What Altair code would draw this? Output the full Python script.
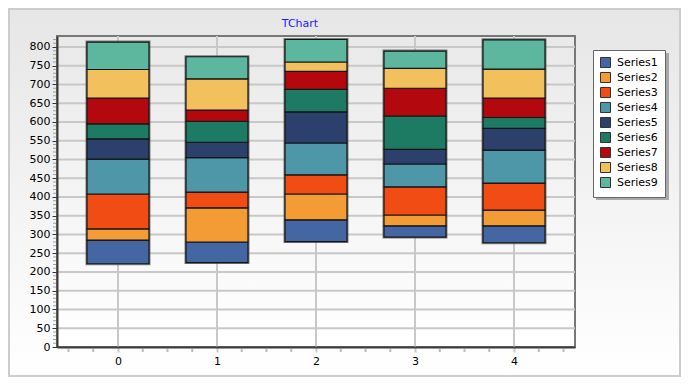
import altair as alt
import pandas as pd

categories = [0, 1, 2, 3, 4]
series_names = ["Series1", "Series2", "Series3", "Series4", "Series5",
                "Series6", "Series7", "Series8", "Series9"]
base = [222, 225, 281, 293, 278]
series1 = [63, 55, 58, 30, 45]
series2 = [30, 91, 69, 29, 42]
series3 = [93, 42, 51, 75, 72]
series4 = [93, 92, 85, 61, 88]
series5 = [54, 41, 83, 39, 58]
series6 = [40, 56, 60, 89, 29]
series7 = [69, 30, 48, 74, 52]
series8 = [76, 83, 25, 53, 77]
series9 = [73, 59, 60, 46, 78]
colors = ["#4466A3", "#F39C35", "#F14C14", "#4E97A8", "#2B406B",
          "#1D7B63", "#B3080E", "#F2C05D", "#5DB79E"]
title_text = "TChart"
y_ticks = list(range(0, 801, 50))
y_minor = [v for v in range(0, 830, 10) if v % 50 != 0]
x_minor = [c + q for c in range(-1, 5) for q in (0.25, 0.5, 0.75)]
x_minor = [v for v in x_minor if -0.6 < v < 4.6]

all_series = [series1, series2, series3, series4, series5,
              series6, series7, series8, series9]

rows = []
tops = []
for i, c in enumerate(categories):
    lo = base[i]
    for name, vals in zip(series_names, all_series):
        hi = lo + vals[i]
        rows.append({"cat": c, "series": name, "lo": lo, "hi": hi})
        lo = hi
    tops.append(lo)
df = pd.DataFrame(rows)
df_out = pd.DataFrame({"cat": categories, "lo": base, "hi": tops})

W, H = 518, 311
PL, PT, PR, PB = 49, 28, 106, 30
HALF = 0.313
LX, LY = 536, 14

xscale = alt.Scale(domain=[-0.616, 4.616], nice=False, zero=False)
yscale = alt.Scale(domain=[0, 829.3], nice=False, zero=False)
xaxis = alt.Axis(values=categories, format="d", grid=False, title=None,
                 domainColor="#3c3c3c", domainWidth=2, tickColor="#c8c8c8",
                 tickWidth=2, tickSize=5, labelPadding=3, labelFontSize=11,
                 labelFont="DejaVu Sans", labelColor="#000000", zindex=1)
yaxis = alt.Axis(values=y_ticks, grid=False, title=None,
                 domainColor="#3c3c3c", domainWidth=2, tickColor="#333333",
                 tickWidth=1, tickSize=5, labelPadding=2, labelFontSize=11,
                 labelFont="DejaVu Sans", labelColor="#000000", zindex=1)


def X(field):
    return alt.X(field, type="quantitative", scale=xscale, axis=xaxis)


def Y(field):
    return alt.Y(field, type="quantitative", scale=yscale, axis=yaxis)


one = pd.DataFrame({"a": [0]})
outer_grad = alt.Gradient(gradient="linear", x1=0, x2=0, y1=0, y2=1,
                          stops=[alt.GradientStop(color="#e6e6e6", offset=0),
                                 alt.GradientStop(color="#ffffff", offset=1)])
plot_grad = alt.Gradient(gradient="linear", x1=0, x2=0, y1=0, y2=1,
                         stops=[alt.GradientStop(color="#e9e9e9", offset=0),
                                alt.GradientStop(color="#ffffff", offset=1)])

bg_outer = alt.Chart(one).mark_rect(color=outer_grad, stroke="#cccccc", strokeWidth=2).encode(
    x=alt.value(-PL + 1), x2=alt.value(W + PR - 1),
    y=alt.value(-PT + 1), y2=alt.value(H + PB - 1))
bg_plot = alt.Chart(one).mark_rect(color=plot_grad, stroke="#777777", strokeWidth=2).encode(
    x=alt.value(0), x2=alt.value(W), y=alt.value(0), y2=alt.value(H))

legend_shadow = alt.Chart(one).mark_rect(color="#8a8a8a", opacity=0.7).encode(
    x=alt.value(LX + 3), x2=alt.value(LX + 76),
    y=alt.value(LY + 3), y2=alt.value(LY + 150))

title = alt.Chart(pd.DataFrame({"t": [title_text]})).mark_text(
    color="#1a1aff", fontSize=11, font="DejaVu Sans", align="center",
    baseline="alphabetic").encode(
    text="t:N", x=alt.value(243), y=alt.value(-9))

grid_h = alt.Chart(pd.DataFrame({"v": y_ticks[1:]})).mark_rule(
    color="#c8c8c8", strokeWidth=2).encode(
    y=Y("v"), x=alt.value(0), x2=alt.value(W))
grid_v = alt.Chart(pd.DataFrame({"cat": categories})).mark_rule(
    color="#c8c8c8", strokeWidth=2).encode(
    x=X("cat"), y=alt.value(0), y2=alt.value(H))

minor_y = alt.Chart(pd.DataFrame({"v": y_minor})).mark_rule(
    color="#a0a0a0", strokeWidth=1).encode(
    y=Y("v"), x=alt.value(-4), x2=alt.value(-1))
minor_x = alt.Chart(pd.DataFrame({"v": x_minor})).mark_rule(
    color="#bbbbbb", strokeWidth=2).encode(
    x=X("v"), y=alt.value(H + 2), y2=alt.value(H + 5))

outline = alt.Chart(df_out).transform_calculate(
    xl=f"datum.cat - {HALF}", xr=f"datum.cat + {HALF}").mark_rect(
    fill=None, stroke="#555555", strokeWidth=3, strokeOpacity=0.75).encode(
    x=X("xl:Q"), x2="xr:Q", y=Y("lo:Q"), y2="hi:Q")

bars = alt.Chart(df).transform_calculate(
    xl=f"datum.cat - {HALF}", xr=f"datum.cat + {HALF}").mark_rect(
    stroke="#151515", strokeWidth=1.2).encode(
    x=X("xl:Q"), x2="xr:Q", y=Y("lo:Q"), y2="hi:Q",
    color=alt.Color("series:N",
                    scale=alt.Scale(domain=series_names, range=colors),
                    sort=series_names,
                    legend=alt.Legend(orient="none", legendX=LX, legendY=LY,
                                      title=None, fillColor="#ffffff",
                                      strokeColor="#666666", padding=7,
                                      symbolType="square", symbolSize=100,
                                      symbolStrokeColor="#333333",
                                      symbolStrokeWidth=1, symbolOpacity=1,
                                      labelFontSize=11, labelFont="DejaVu Sans",
                                      labelColor="#000000", rowPadding=0,
                                      labelOffset=6, zindex=1)))

chart = alt.layer(bg_outer, bg_plot, legend_shadow, title, grid_h, grid_v,
                  minor_y, minor_x, outline, bars).properties(
    width=W, height=H,
    autosize=alt.AutoSizeParams(type="none"),
    padding={"left": PL, "top": PT, "right": PR, "bottom": PB},
).configure_view(stroke=None).configure(background="#ffffff")

chart.save("out.html", embed_options={"renderer": "svg", "actions": False})
